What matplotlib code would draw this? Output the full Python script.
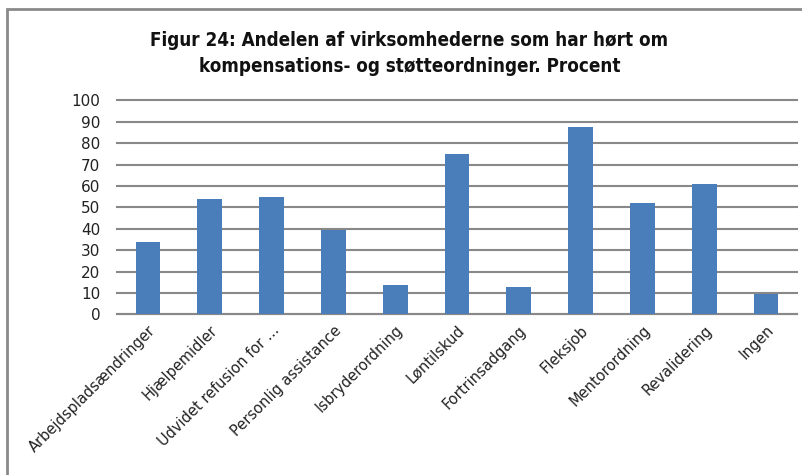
import matplotlib
matplotlib.use("Agg")
import matplotlib.pyplot as plt
from matplotlib.patches import Rectangle

categories = ["Arbejdspladsændringer", "Hjælpemidler", "Udvidet refusion for ...",
              "Personlig assistance", "Isbryderordning", "Løntilskud", "Fortrinsadgang",
              "Fleksjob", "Mentorordning", "Revalidering", "Ingen"]
values = [34, 54, 55, 39.6, 13.7, 75.2, 12.9, 87.4, 52, 61, 9.5]
yticks = list(range(0, 101, 10))

W, H = 803, 475
fig = plt.figure(figsize=(W/100, H/100), dpi=100)
fig.patch.set_facecolor("white")

# outer chart border
fig.patches.append(Rectangle((7/W, -0.05), 1.2, 1 - 9/H + 0.05, transform=fig.transFigure,
                             fill=False, edgecolor="#8a8a8a", linewidth=2, zorder=0))

left, right = 117/W, 797/W
bottom, top = 1 - 314.3/H, 1 - 100.5/H
ax = fig.add_axes([left, bottom, right - left, top - bottom])

x = list(range(len(categories)))
ax.bar(x, values, width=0.4, color="#4A7EBB", zorder=3)
ax.set_xlim(-0.5, len(categories) - 0.5)
ax.set_ylim(0, 100)
ax.set_yticks(yticks)
ax.set_yticklabels([str(t) for t in yticks], fontsize=11, color="#222222")
ax.yaxis.grid(True, color="#888888", linewidth=1.5, zorder=0)
ax.set_axisbelow(True)
for s in ["left", "right", "top"]:
    ax.spines[s].set_visible(False)
ax.spines["bottom"].set_color("#888888")
ax.spines["bottom"].set_linewidth(1.5)
ax.tick_params(axis="y", length=0, pad=12)
ax.tick_params(axis="x", length=0, pad=6)
ax.set_xticks(x)
ax.set_xticklabels(categories, rotation=45, ha="right", rotation_mode="anchor",
                   fontsize=10.5, color="#222222")
for gl in ax.get_ygridlines():
    gl.set_clip_on(False)

fig.text(0.51, 1 - 40/H, "Figur 24: Andelen af virksomhederne som har hørt om",
         ha="center", va="center", fontsize=13.5, fontweight="bold", fontstretch="condensed",
         color="#111111")
fig.text(0.51, 1 - 66/H, "kompensations- og støtteordninger. Procent",
         ha="center", va="center", fontsize=13.5, fontweight="bold", fontstretch="condensed",
         color="#111111")

fig.savefig("out.png", dpi=100)
